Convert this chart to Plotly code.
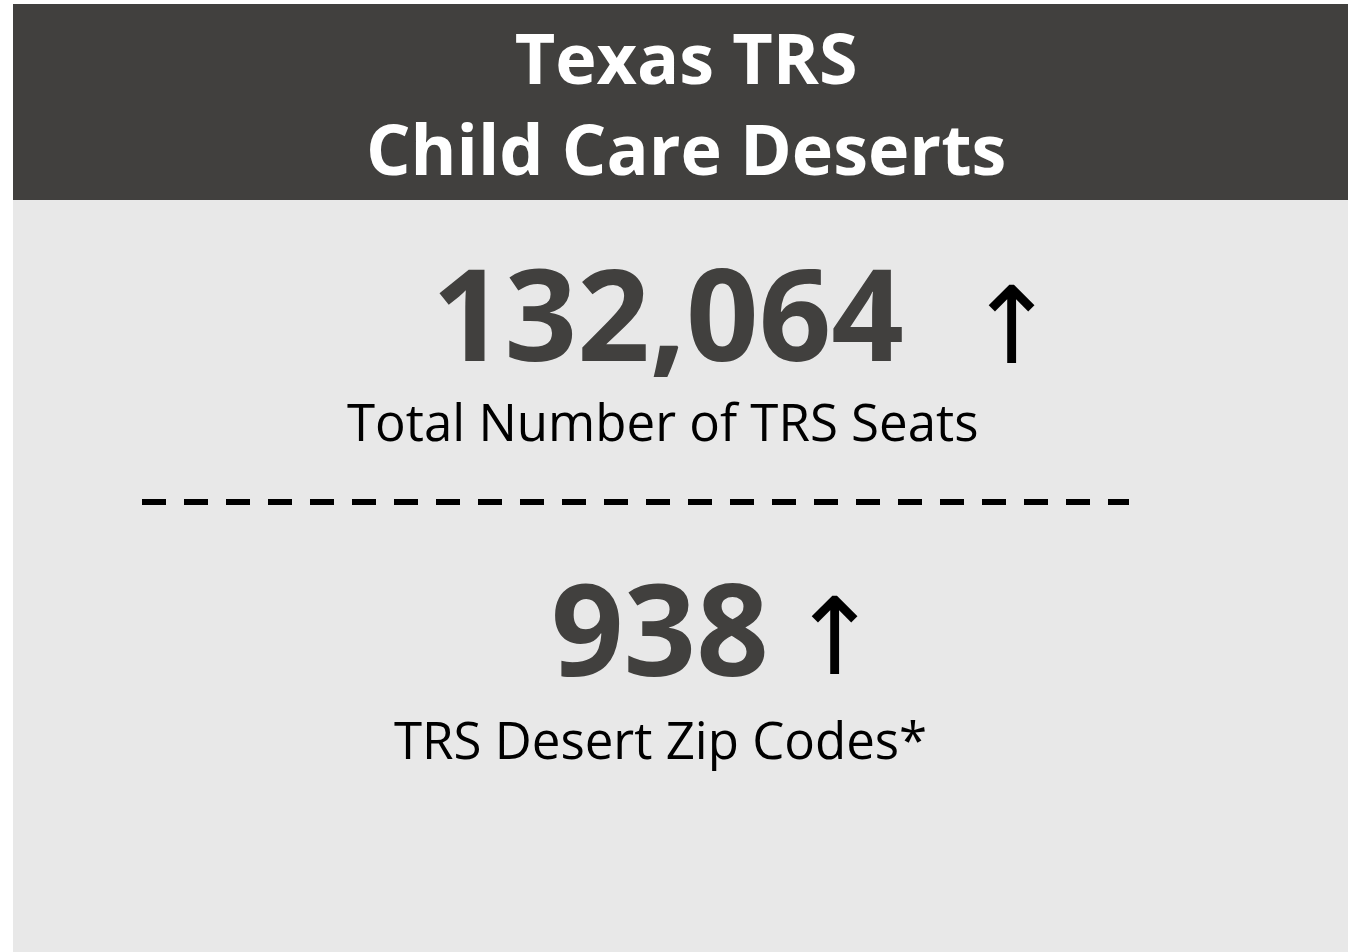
import plotly.graph_objects as go

# ---- data ----
title_lines = ["Texas TRS", "Child Care Deserts"]
kpi_values = [132064, 938]
kpi_labels = ["Total Number of TRS Seats", "TRS Desert Zip Codes*"]
kpi_trend = ["↑", "↑"]

W, H = 1348, 952
DARK = "#41403E"
LIGHT = "#E8E8E8"

fig = go.Figure()

shapes = [
    dict(type="rect", x0=13, x1=W, y0=4, y1=H, fillcolor=LIGHT, line=dict(width=0), layer="below"),
    dict(type="rect", x0=13, x1=W, y0=4, y1=200, fillcolor=DARK, line=dict(width=0), layer="below"),
    dict(type="line", x0=142, x1=1129, y0=502, y1=502, line=dict(color="black", width=6, dash="24px,18px")),
]

ann = []
ann.append(dict(x=686, y=102, text="<b>" + "<br>".join(title_lines) + "</b>",
                font=dict(family="Open Sans", size=70, color="white"),
                showarrow=False, xanchor="center", yanchor="middle"))

num_pos = [(668, 311), (660, 626)]
arrow_pos = [(1012, 326), (835, 637)]
label_pos = [(663, 421), (660, 739)]
for v, lab, tr, (nx, ny), (ax, ay), (lx, ly) in zip(kpi_values, kpi_labels, kpi_trend, num_pos, arrow_pos, label_pos):
    ann.append(dict(x=nx, y=ny, text="<b>" + f"{v:,}" + "</b>",
                    font=dict(family="Open Sans", size=127, color=DARK),
                    showarrow=False, xanchor="center", yanchor="middle"))
    ann.append(dict(x=ax, y=ay, text=tr,
                    font=dict(family="DejaVu Sans", size=107, color="black"),
                    showarrow=False, xanchor="center", yanchor="middle"))
    ann.append(dict(x=lx, y=ly, text=lab,
                    font=dict(family="Open Sans", size=51, color="black"),
                    showarrow=False, xanchor="center", yanchor="middle"))

for a in ann:
    a.update(xref="x", yref="y")

fig.update_layout(
    width=W, height=H,
    margin=dict(l=0, r=0, t=0, b=0),
    paper_bgcolor="white", plot_bgcolor="white",
    xaxis=dict(range=[0, W], visible=False, fixedrange=True),
    yaxis=dict(range=[H, 0], visible=False, fixedrange=True),
    shapes=shapes, annotations=ann, showlegend=False,
)

fig.write_html(
    "out.html",
    config={"displayModeBar": False},
    post_script="document.body.style.margin='0';document.body.style.overflow='hidden';",
)
